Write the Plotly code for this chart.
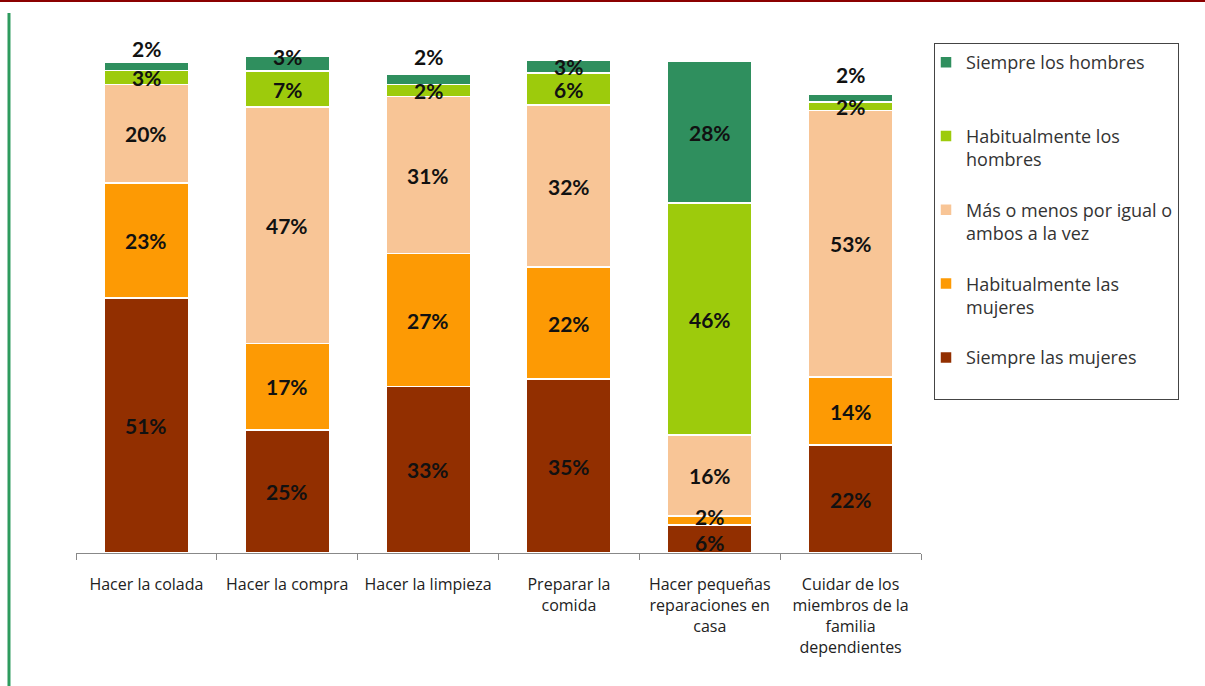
import plotly.graph_objects as go

categories = [
    "Hacer la colada",
    "Hacer la compra",
    "Hacer la limpieza",
    "Preparar la<br>comida",
    "Hacer pequeñas<br>reparaciones en<br>casa",
    "Cuidar de los<br>miembros de la<br>familia<br>dependientes",
]

series_names = [
    "Siempre las mujeres<br> ",
    "Habitualmente las<br>mujeres",
    "Más o menos por igual o<br>ambos a la vez",
    "Habitualmente los<br>hombres",
    "Siempre los hombres<br> ",
]

# values (%); labels show them rounded
siempre_mujeres = [51.0, 24.6, 33.3, 34.8, 5.6, 21.6]
habitual_mujeres = [23.0, 17.3, 26.6, 22.4, 1.8, 13.6]
igual_ambos = [19.7, 47.3, 31.4, 32.4, 16.2, 53.3]
habitual_hombres = [2.8, 7.2, 2.4, 6.4, 46.4, 1.7]
siempre_hombres = [1.6, 3.0, 2.1, 2.6, 28.4, 1.5]

series_values = [siempre_mujeres, habitual_mujeres, igual_ambos,
                 habitual_hombres, siempre_hombres]

colors = ["#922F00", "#FD9A04", "#F8C596", "#9DCB0C", "#2F8F5E"]

# label vertical nudges (px): (series index, category index) -> shift
label_shift = {
    (4, 0): 18, (4, 1): 7, (4, 2): 23, (4, 5): 24,
    (1, 4): 4, (0, 4): -3,
}

label_font = "Lato, 'Liberation Sans', Arial, sans-serif"
text_font = "'Open Sans', Lato, Arial, sans-serif"

fig = go.Figure()
n = len(series_values)
for i, (name, vals, col) in enumerate(zip(series_names, series_values, colors)):
    fig.add_trace(go.Bar(
        x=categories, y=vals, name=name,
        marker=dict(color=col, line=dict(color="white", width=1.5)),
        legendgroup=f"g{i}",
        legendrank=n - i,
        hoverinfo="skip",
    ))

# data labels
annotations = []
cum = [0.0] * len(categories)
for s, vals in enumerate(series_values):
    for j, v in enumerate(vals):
        mid = cum[j] + v / 2
        annotations.append(dict(
            x=categories[j], y=mid, text=f"{round(v)}%", showarrow=False,
            yshift=label_shift.get((s, j), 0), xref="x", yref="y",
            font=dict(family=label_font, size=21, color="#111111", weight="bold"),
        ))
        cum[j] += v

fig.update_layout(
    barmode="stack",
    bargap=0.4,
    width=1205, height=686,
    margin=dict(l=76, r=284, t=53, b=133),
    paper_bgcolor="white", plot_bgcolor="white",
    font=dict(family=text_font, color="#222222"),
    annotations=annotations,
    showlegend=True,
    legend=dict(
        x=1.0154, y=1.02, xanchor="left", yanchor="top",
        traceorder="grouped", tracegroupgap=24,
        valign="top",
        bordercolor="#444444", borderwidth=1,
        font=dict(family=text_font, size=18, color="#333333"),
        indentation=-9,
        maxheight=640,
    ),
    xaxis=dict(
        showline=True, linecolor="#888888", linewidth=1,
        ticks="outside", tickson="boundaries", ticklen=6, tickcolor="#888888",
        tickfont=dict(family=text_font, size=16, color="#222222"),
        ticklabelstandoff=17,
        showgrid=False,
    ),
    yaxis=dict(range=[0, 100], visible=False, showgrid=False),
    shapes=[
        dict(type="line", xref="paper", yref="paper",
             x0=-0.095, x1=1.34, y0=1.104, y1=1.104,
             line=dict(color="#8B0000", width=2)),
        dict(type="line", xref="paper", yref="paper",
             x0=-0.0793, x1=-0.0793, y0=1.08, y1=-0.27,
             line=dict(color="#2E9B5E", width=3)),
    ],
)

fig.write_html(
    "out.html",
    config={"displayModeBar": False},
    post_script="document.body.style.margin='0';document.body.style.overflow='hidden';",
)
